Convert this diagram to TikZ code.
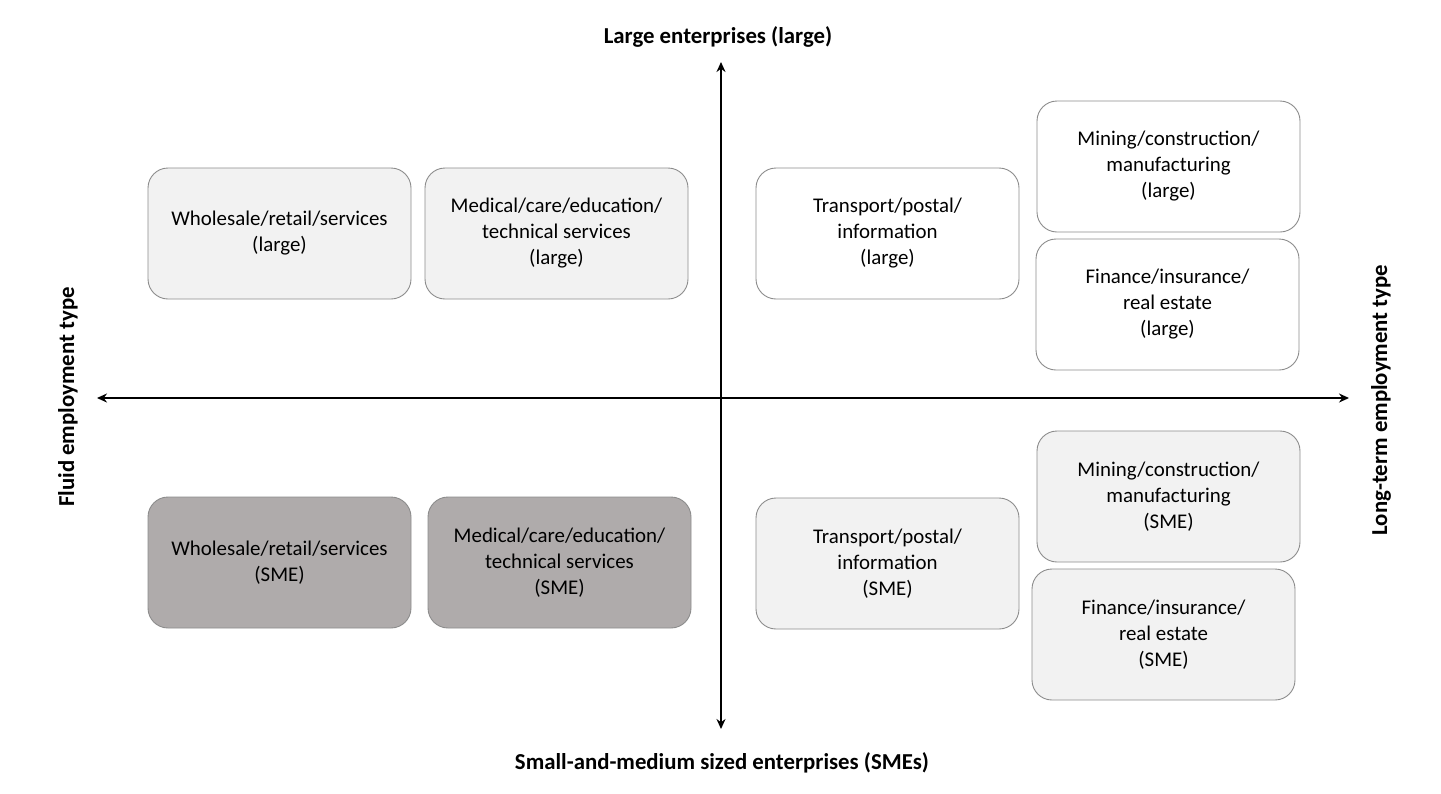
\documentclass[tikz,border=0pt]{standalone}
\usepackage{fontspec}
\setmainfont{Carlito}
\usepackage{tikz}
\usetikzlibrary{arrows.meta, positioning}
\definecolor{lightfill}{HTML}{F2F2F2}
\definecolor{darkfill}{HTML}{AFABAB}
\definecolor{boxline}{HTML}{8C8C8C}
\tikzstyle{sector} = [rectangle, rounded corners=20pt, line width=0.9pt, draw=boxline, fill=white, minimum width=263pt, minimum height=131pt, inner sep=0pt, text centered, align=center, font=\fontsize{20.9}{26}\selectfont]
\tikzstyle{light} = [sector, fill=lightfill]
\tikzstyle{dark} = [sector, fill=darkfill]
\tikzstyle{axislabel} = [font=\fontsize{22.8}{26}\selectfont\bfseries]
\tikzstyle{arrow} = [line width=1.6pt,{Stealth[length=10pt,width=9pt]}-{Stealth[length=10pt,width=9pt]}]

\begin{document}
\begin{tikzpicture}[x=1pt, y=-1pt]
		\useasboundingbox (0,0) rectangle (1441,793);
		% axes
		\coordinate (West) at (97,398);
		\coordinate (East) at (1349,398);
		\coordinate (North) at (721,62);
		\coordinate (South) at (721,729);
		\draw [arrow] (West) -- (East);
		\draw [arrow] (South) -- (North);
		\node (Large) [axislabel] at (718,37) {Large enterprises (large)};
		\node (SMEs) [axislabel] at (722,763) {Small-and-medium sized enterprises (SMEs)};
		\node (Fluid) [axislabel, rotate=90] at (68,397) {Fluid employment type};
		\node (LongTerm) [axislabel, rotate=90] at (1381,400) {Long-term employment type};
		% large enterprises
		\node (WholesaleL) [light] at (279.5,233.5) {Wholesale/retail/services\\(large)};
		\node (MedicalL) [light] at (556.5,233.5) {Medical/care/education/\\technical services\\(large)};
		\node (TransportL) [sector] at (887.5,233.5) {Transport/postal/\\information\\(large)};
		\node (MiningL) [sector] at (1168.5,166.5) {Mining/construction/\\manufacturing\\(large)};
		\node (FinanceL) [sector] at (1167.5,304.5) {Finance/insurance/\\real estate\\(large)};
		% SMEs
		\node (WholesaleS) [dark] at (279.5,562.5) {Wholesale/retail/services\\(SME)};
		\node (MedicalS) [dark] at (559.5,562.5) {Medical/care/education/\\technical services\\(SME)};
		\node (TransportS) [light] at (887.5,563.5) {Transport/postal/\\information\\(SME)};
		\node (MiningS) [light] at (1168.5,496.5) {Mining/construction/\\manufacturing\\(SME)};
		\node (FinanceS) [light] at (1163.5,634.5) {Finance/insurance/\\real estate\\(SME)};
		\end{tikzpicture}
\end{document}
